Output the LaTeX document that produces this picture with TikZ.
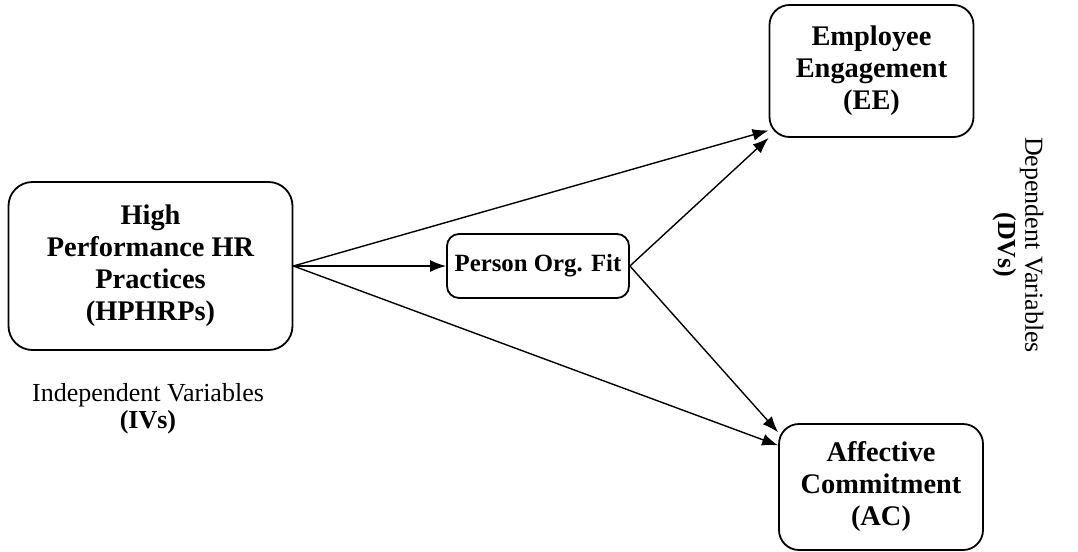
\documentclass[tikz,border=0pt]{standalone}
\usepackage{fontspec}
\setmainfont{Liberation Serif}
\usetikzlibrary{arrows.meta,calc}
\tikzset{
  var/.style={draw=black,fill=white,rounded corners=12pt,line width=0.9pt,align=center,inner sep=2pt,font=\fontsize{14.2}{16}\selectfont\bfseries},
  varm/.style={var,rounded corners=6pt,inner sep=1pt,font=\fontsize{12.4}{14}\selectfont\bfseries},
  arr/.style={-{Latex[length=8pt,width=6pt]},line width=0.7pt,color=black},
  lbl/.style={font=\fontsize{13}{13.5}\selectfont,align=center},
}
\begin{document}
\begin{tikzpicture}[x=0.5pt,y=-0.5pt]
\useasboundingbox (0,0) rectangle (1078,552);
\node[var,minimum width=142pt,minimum height=84pt] (hp) at (150.5,266) {High\\Performance HR\\Practices\\(HPHRPs)};
\node[varm,minimum width=91pt,minimum height=32pt] (pof) at (538,266) {Person Org. Fit};
\node[var,rounded corners=10pt,minimum width=102pt,minimum height=66pt] (ee) at (871.5,71) {Employee\\Engagement\\(EE)};
\node[var,rounded corners=10pt,minimum width=102pt,minimum height=63pt] (ac) at (881,487) {Affective\\Commitment\\(AC)};
\node[lbl] (ivs) at (148,409) {Independent Variables\\\textbf{(IVs)}};
\node[lbl,rotate=-90] (dvs) at (1018,245) {Dependent Variables\\\textbf{(DVs)}};
\draw[arr](hp.east)--(ee.210);\draw[arr](hp.east)--(pof.west);\draw[arr](hp.east)--(ac.158);
\draw[arr](pof.east)--(ee.south west);\draw[arr](pof.east)--(ac.152);
\end{tikzpicture}
\end{document}
